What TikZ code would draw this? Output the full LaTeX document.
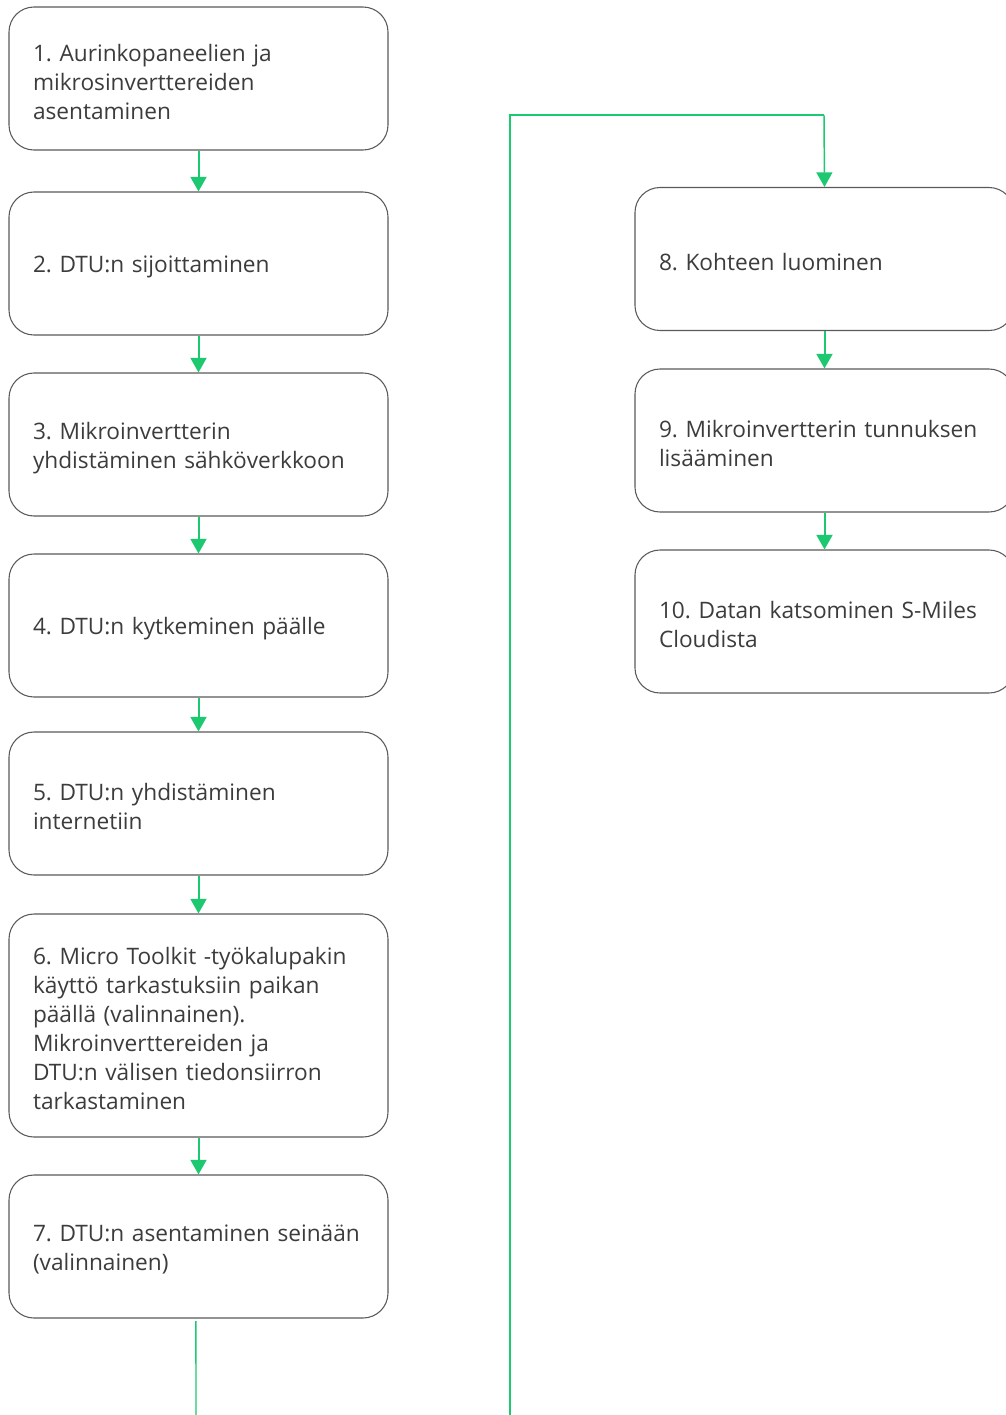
\documentclass[tikz,border=0pt]{standalone}
\usepackage{fontspec}
\setmainfont{Open Sans}
\usetikzlibrary{arrows.meta}
\definecolor{flowgreen}{RGB}{29,201,112}
\definecolor{boxline}{RGB}{90,90,90}
\definecolor{txt}{RGB}{60,60,60}
\frenchspacing
\begin{document}
\begin{tikzpicture}[x=0.75pt,y=-0.75pt,
  stepbox/.style={draw=boxline, line width=0.8pt, rounded corners=18.75pt,
    minimum height=107.25pt, minimum width=284.25pt, inner sep=0pt},
  steptext/.style={text width=248.25pt, inner sep=0pt, yshift=-2.4pt,
    align=left, font=\fontsize{17}{21.75}\selectfont, text=txt},
  flow/.style={draw=flowgreen, line width=1.5pt, -{Triangle[width=12pt,length=11pt]}},
  longflow/.style={draw=flowgreen, line width=1.1pt}]
\useasboundingbox (0,0) rectangle (1006,1415);
\clip (0,0) rectangle (1006,1415);
\fill[white] (0,0) rectangle (1006,1415);
\node[stepbox] (s1) at (198.5,78.5) {};
\node[stepbox] (s2) at (198.5,263.5) {};
\node[stepbox] (s3) at (198.5,444.5) {};
\node[stepbox] (s4) at (198.5,625.5) {};
\node[stepbox] (s5) at (198.5,803.5) {};
\node[stepbox, minimum height=167.25pt] (s6) at (198.5,1025.5) {};
\node[stepbox] (s7) at (198.5,1246.5) {};
\node[stepbox] (s8) at (824.5,259) {};
\node[stepbox] (s9) at (824.5,440.5) {};
\node[stepbox] (s10) at (824.5,621.5) {};
\node[steptext] (t1) at (s1.center) {1. Aurinkopaneelien ja\\mikrosinverttereiden\\asentaminen};
\node[steptext] (t2) at (s2.center) {2. DTU:n sijoittaminen};
\node[steptext] (t3) at (s3.center) {3. Mikroinvertterin\\yhdistäminen sähköverkkoon};
\node[steptext] (t4) at (s4.center) {4. DTU:n kytkeminen päälle};
\node[steptext] (t5) at (s5.center) {5. DTU:n yhdistäminen\\internetiin};
\node[steptext] (t6) at (s6.center) {6. Micro Toolkit -työkalupakin\\käyttö tarkastuksiin paikan\\päällä (valinnainen).\\Mikroinverttereiden ja\\DTU:n välisen tiedonsiirron\\tarkastaminen};
\node[steptext] (t7) at (s7.center) {7. DTU:n asentaminen seinään\\(valinnainen)};
\node[steptext] (t8) at (s8.center) {8. Kohteen luominen};
\node[steptext] (t9) at (s9.center) {9. Mikroinvertterin tunnuksen\\lisääminen};
\node[steptext] (t10) at (s10.center) {10. Datan katsominen S-Miles\\Cloudista};
\coordinate (b1) at (196,1415);
\coordinate (b2) at (510,1415);
\coordinate (c1) at (510,115);
\coordinate (c2) at (824,115);
\draw[flow] (s1) -- (s2);
\draw[flow] (s2) -- (s3);
\draw[flow] (s3) -- (s4);
\draw[flow] (s4) -- (s5);
\draw[flow] (s5) -- (s6);
\draw[flow] (s6) -- (s7);
\draw[longflow] ([xshift=-1.9pt,yshift=-2pt]s7.south) -- (b1);
\draw[longflow] (b2) -- (c1) -- (c2);
\draw[flow, line width=1.1pt] (c2) -- (s8.north);
\draw[flow] (s8) -- (s9);
\draw[flow] (s9) -- (s10);
\end{tikzpicture}
\end{document}
